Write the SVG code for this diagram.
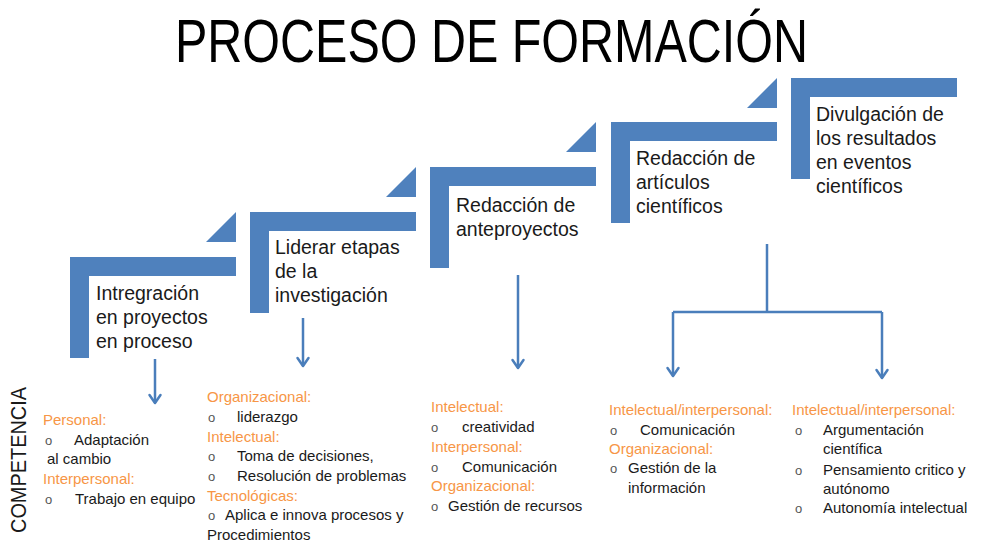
<svg xmlns="http://www.w3.org/2000/svg" width="981" height="541" viewBox="0 0 981 541">
<style>
.step{fill:#4F81BD}
.lbl{font-family:"Liberation Sans",Arial,sans-serif;font-size:19.5px;fill:#1a1a1a}
.t{font-family:"Liberation Sans",Arial,sans-serif;font-size:15px;fill:#1a1a1a}
.h{fill:#F79646}
.b{fill:#555;font-size:13px}
.conn{fill:none;stroke:#4A7EBB;stroke-width:2.5}
</style>
<defs>
<marker id="ah" markerUnits="userSpaceOnUse" orient="auto" refX="0" refY="0" markerWidth="20" markerHeight="20" viewBox="-10 -10 20 20" overflow="visible">
<path d="M-8,-5.5 L0,0 L-8,5.5" fill="none" stroke="#4A7EBB" stroke-width="2.5" stroke-linecap="round" stroke-linejoin="round"/>
</marker>
</defs>
<rect width="981" height="541" fill="#fff"/>
<text id="title" x="175" y="62" font-family="'Liberation Sans',Arial,sans-serif" font-size="61" fill="#000" textLength="633" lengthAdjust="spacingAndGlyphs">PROCESO DE FORMACIÓN</text>

<g id="step1">
<path class="step" d="M70,257 H236 V276 H89 V358 H70 Z"/>
<path class="step" d="M206,242 H236 V212 Z"/>
<text class="lbl" x="96" y="300">Intregración</text>
<text class="lbl" x="96" y="324">en proyectos</text>
<text class="lbl" x="96" y="348">en proceso</text>
</g>
<g id="step2">
<path class="step" d="M250,212 H416 V231 H269 V313 H250 Z"/>
<path class="step" d="M386,197 H416 V167 Z"/>
<text class="lbl" x="275" y="254">Liderar etapas</text>
<text class="lbl" x="275" y="278">de la</text>
<text class="lbl" x="275" y="302">investigación</text>
</g>
<g id="step3">
<path class="step" d="M430,167 H596 V186 H449 V268 H430 Z"/>
<path class="step" d="M566,152 H596 V122 Z"/>
<text class="lbl" x="456" y="212">Redacción de</text>
<text class="lbl" x="456" y="236">anteproyectos</text>
</g>
<g id="step4">
<path class="step" d="M611,122 H777 V141 H630 V223 H611 Z"/>
<path class="step" d="M747,108 H777 V78 Z"/>
<text class="lbl" x="636" y="165">Redacción de</text>
<text class="lbl" x="636" y="189">artículos</text>
<text class="lbl" x="636" y="213">científicos</text>
</g>
<g id="step5">
<path class="step" d="M791,78 H957 V97 H810 V179 H791 Z"/>
<text class="lbl" x="816" y="121">Divulgación de</text>
<text class="lbl" x="816" y="145">los resultados</text>
<text class="lbl" x="816" y="169">en eventos</text>
<text class="lbl" x="816" y="193">científicos</text>
</g>

<g id="connectors">
<path class="conn" d="M155,359 V403" marker-end="url(#ah)"/>
<path class="conn" d="M303,318 V366" marker-end="url(#ah)"/>
<path class="conn" d="M518,275 V368" marker-end="url(#ah)"/>
<path class="conn" d="M767,244 V312"/>
<path class="conn" d="M673,312 H882"/>
<path class="conn" d="M673,312 V376" marker-end="url(#ah)"/>
<path class="conn" d="M882,312 V378" marker-end="url(#ah)"/>
</g>

<text id="competencia" transform="translate(26,533) rotate(-90)" font-family="'Liberation Sans',Arial,sans-serif" font-size="22" fill="#1a1a1a" textLength="146" lengthAdjust="spacingAndGlyphs">COMPETENCIA</text>

<g id="comp1">
<text class="t h" x="43" y="425">Personal:</text>
<text class="t b" x="45" y="445">o</text>
<text class="t" x="74" y="445">Adaptación</text>
<text class="t" x="47" y="464">al cambio</text>
<text class="t h" x="43" y="484">Interpersonal:</text>
<text class="t b" x="45" y="504">o</text>
<text class="t" x="75" y="504">Trabajo en equipo</text>
</g>
<g id="comp2">
<text class="t h" x="207" y="402">Organizacional:</text>
<text class="t b" x="208" y="422">o</text>
<text class="t" x="237" y="422">liderazgo</text>
<text class="t h" x="207" y="441.5">Intelectual:</text>
<text class="t b" x="208" y="461">o</text>
<text class="t" x="237" y="461">Toma de decisiones,</text>
<text class="t b" x="208" y="481">o</text>
<text class="t" x="237" y="481">Resolución de problemas</text>
<text class="t h" x="207" y="500.5">Tecnológicas:</text>
<text class="t b" x="208" y="520">o</text>
<text class="t" x="225" y="520">Aplica e innova procesos y</text>
<text class="t" x="207" y="539.5">Procedimientos</text>
</g>
<g id="comp3">
<text class="t h" x="431" y="412">Intelectual:</text>
<text class="t b" x="431" y="432">o</text>
<text class="t" x="462" y="432">creatividad</text>
<text class="t h" x="431" y="452">Interpersonal:</text>
<text class="t b" x="431" y="472">o</text>
<text class="t" x="462" y="472">Comunicación</text>
<text class="t h" x="431" y="491">Organizacional:</text>
<text class="t b" x="431" y="511">o</text>
<text class="t" x="448" y="511">Gestión de recursos</text>
</g>
<g id="comp4">
<text class="t h" x="609" y="415">Intelectual/interpersonal:</text>
<text class="t b" x="610" y="435">o</text>
<text class="t" x="640" y="435">Comunicación</text>
<text class="t h" x="609" y="454">Organizacional:</text>
<text class="t b" x="610" y="473">o</text>
<text class="t" x="628" y="473">Gestión de la</text>
<text class="t" x="628" y="493">información</text>
</g>
<g id="comp5">
<text class="t h" x="792" y="415">Intelectual/interpersonal:</text>
<text class="t b" x="795" y="435">o</text>
<text class="t" x="823" y="435">Argumentación</text>
<text class="t" x="823" y="454">científica</text>
<text class="t b" x="795" y="475">o</text>
<text class="t" x="823" y="475">Pensamiento critico y</text>
<text class="t" x="823" y="494">autónomo</text>
<text class="t b" x="795" y="513">o</text>
<text class="t" x="823" y="513">Autonomía intelectual</text>
</g>
</svg>
